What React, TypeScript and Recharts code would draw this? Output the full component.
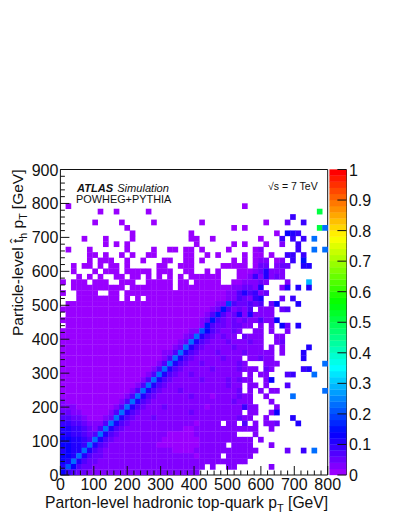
import React from 'react';
import { ScatterChart, Scatter, XAxis, YAxis } from 'recharts';

// pT axes (GeV) and colour scale
const xTicks = [0, 20, 40, 60, 80, 100, 120, 140, 160, 180, 200, 220, 240, 260, 280, 300, 320, 340, 360, 380, 400, 420, 440, 460, 480, 500, 520, 540, 560, 580, 600, 620, 640, 660, 680, 700, 720, 740, 760, 780, 800];
const yTicks = [...xTicks, 820, 840, 860, 880, 900];
const colorTicks = [0, 0.1, 0.2, 0.3, 0.4, 0.5, 0.6, 0.7, 0.8, 0.9, 1];
const colorLevels = [0, 1, 2, 3, 4, 5, 6, 7, 8, 9, 10, 11, 12, 13, 14, 15, 16, 17, 18, 19, 20, 21, 22, 23, 24, 25, 26, 27, 28, 29, 30, 31, 32, 33, 34, 35, 36, 37, 38, 39, 40, 41, 42, 43, 44, 45, 46, 47, 48, 49];

const binSize = 16;

// migration matrix, top row first (784-800 GeV), one char per 16 GeV bin
// char = colour level in base 36 (level / 50 = fraction), '.' = empty bin
const heatRows = [
  '.0........ .......... .......... ....0..... ..........',
  '.......0.. 0.....0... .......... .......... ........p.',
  '.......... .......... .......... .......... ...4......',
  '......0... .0.....0.. ......0... ........0. ..2..4....',
  '.......... ..0....... .......... ..0.0..... ........pb',
  '.......... ...0...... ....0..... .......... 0.654.....',
  '....0...0. ...0...... ....00..0. .......0.. .4.4.4.b..',
  '........0. 0.0....... .....0.... ..0.0...0. .1..4.....',
  '.0...0.... ..0....0.. 00.00.0... .0....01.. ....4..b.b',
  '.....00.0. .0.0..00.. ...00..0.0 ....0.00.0 ..44.4....',
  '.....0.000 ..0..0...0 0..00.0... ..0.0.011. 01.4.7....',
  '..0.00.0.0 0.0.....00 ..000..... 00000.022. 122..55...',
  '..0...0.00 0.00000.00 0..00..0.0 ...0001251 11........',
  '...0.0.0.. 00.00.0.0. 0.0.000000 ...0014151 21........',
  '0.000.000. .000..0000 0.00.00000 ..0011121. ..1...e...',
  '..00000000 00.0000000 0.00000000 00112215.. .15.5.5...',
  '0..0000..0 0.00000000 0000000000 011353412. ..........',
  '...0000000 0.0.0.0000 0000000000 01132145.. .2.4......',
  '.000000000 0000000000 0000000001 19322323.2 6...5.....',
  '0000000000 0000000000 0000000012 731213.111 .23.......',
  '.000000000 0000000000 0000000137 3125151111 ..........',
  '0000000000 0000000000 0000001273 2121211311 6.........',
  '.000000000 0000000000 0000001732 212211.1.1 .62.5.....',
  '0000000000 0000000000 000011a632 1121..11.1 ..1.......',
  '0000000000 0000000000 00012b5321 211.2111.. 11........',
  '0000000000 0000000000 0012b53211 12111211.. 12........',
  '0000000000 0000000000 012b532111 11211111.1 .1....5...',
  '0000000000 0000000001 13b5321112 1111211111 .1...5....',
  '0000000000 0000000001 3b53211111 2111.11211 .....5....',
  '0000000000 0000000013 b532112111 11121...11 1........b',
  '0000000000 000000013b 5321111121 1112111.21 .....45...',
  '0000000000 00000013b5 3211211111 1111.1.11. ..34...b..',
  '0000000000 0000013b53 2111112111 121211..16 ..........',
  '0000000000 000013b532 1111111111 1211.11.1. ..3.......',
  '0000000000 00013b5321 1121111111 1112.1.1.1 1........b',
  '0000000000 0013b53211 1111211101 111211..1. ...b......',
  '1000000000 013b532111 1111111111 112111...1 ..........',
  '1110000000 13b5321112 1111111011 1111411... 1.........',
  '2211000001 3b53211111 1111211111 1111.11..1 6.........',
  '3322100012 b532111211 1111111111 111211..1. ...5......',
  '443321113b 5321111111 1111101111 .11.3.1.11 2...5.....',
  '55443213b5 3211111111 1110011111 1111111..1 ..........',
  '5544323b53 2111111111 0000011111 111...1... ..........',
  '665543b532 1111111110 0000001111 111111.1.. ..........',
  '66554b5321 1111111100 0000001111 1.1111...1 ..........',
  '5655b53211 1111111111 1000011111 1111111... ..2..4.b..',
  '665b532211 1111111111 1111101111 .11111.... ..........',
  '65b5322111 1111111111 1111111111 11111..... ..........',
  '5a63221111 1111111111 1111111.1. .11......1 ..........',
  '6432211111 1111111111 111111.... .......... ..........',
];

const heatCells = heatRows.flatMap((row, r) =>
  row.replace(/ /g, '').split('').flatMap((c, i) =>
    c === '.' ? [] : [{
      x: i * binSize + binSize / 2,
      y: (heatRows.length - 1 - r) * binSize + binSize / 2,
      level: parseInt(c, 36),
    }]
  )
);

const colorCells = colorLevels.map(level => ({ x: 0.5, y: (level + 0.5) / colorLevels.length, level }));

const W = 411;
const H = 532;
const LEFT = 60.4;
const RIGHT = 327.7;
const TOP = 169.5;
const BOTTOM = 475;
const BAR_LEFT = 329.4;
const BAR_RIGHT = 346.4;
const FONT = '"Liberation Sans", Arial, sans-serif';
const INK = '#111';
const TICK_FONT = 16;

const cellW = (RIGHT - LEFT) / 800 * binSize;
const cellH = (BOTTOM - TOP) / 900 * binSize;

// ROOT rainbow palette, purple -> red
function levelColor(level: number) {
  return `hsl(${276 - 276 * level / 49}, 100%, 50%)`;
}

// a little overlap keeps the seams between bins faint
const HeatCell = (props: any) => (
  <rect x={props.cx - cellW / 2 - 0.15} y={props.cy - cellH / 2 - 0.15} width={cellW + 0.3} height={cellH + 0.3} fill={levelColor(props.payload.level)} />
);

const BarCell = (props: any) => (
  <rect x={BAR_LEFT} y={props.cy - (BOTTOM - TOP) / 100 - 0.15} width={BAR_RIGHT - BAR_LEFT} height={(BOTTOM - TOP) / 50 + 0.3} fill={levelColor(props.payload.level)} />
);

const BottomTick = ({ x, y, payload }: any) => {
  const major = payload.value % 100 === 0;
  return (
    <g>
      <line x1={x} x2={x} y1={y} y2={y - (major ? 9 : 4.5)} stroke={INK} strokeWidth={1} />
      {major && <text x={x} y={y + 15} textAnchor="middle" fontFamily={FONT} fontSize={TICK_FONT} fill={INK}>{payload.value}</text>}
    </g>
  );
};

const TopTick = ({ x, y, payload }: any) => (
  <line x1={x} x2={x} y1={y} y2={y + (payload.value % 100 === 0 ? 9 : 4.5)} stroke={INK} strokeWidth={1} />
);

const LeftTick = ({ x, y, payload }: any) => {
  const major = payload.value % 100 === 0;
  return (
    <g>
      <line x1={x} x2={x + (major ? 9 : 4.5)} y1={y} y2={y} stroke={INK} strokeWidth={1} />
      {major && <text x={x - 2} y={y + 6} textAnchor="end" fontFamily={FONT} fontSize={TICK_FONT} fill={INK}>{payload.value}</text>}
    </g>
  );
};

const RightTick = ({ x, y, payload }: any) => (
  <line x1={x} x2={x - (payload.value % 100 === 0 ? 9 : 4.5)} y1={y} y2={y} stroke={INK} strokeWidth={1} />
);

const BarTick = ({ x, y, payload }: any) => (
  <g>
    <line x1={x} x2={x - 9} y1={y} y2={y} stroke={INK} strokeWidth={1} />
    <text x={x + 2.5} y={y + 6} fontFamily={FONT} fontSize={TICK_FONT} fill={INK}>{payload.value}</text>
  </g>
);

export default function App() {
  return (
    <div style={{ position: 'absolute', left: 0, top: 0, width: W, height: H, background: '#fff' }}>
      <div style={{ position: 'absolute', left: 0, top: 0 }}>
        <ScatterChart width={W} height={H} margin={{ top: 0, right: 0, bottom: 0, left: 0 }}>
          <XAxis xAxisId="bottom" type="number" dataKey="x" domain={[0, 800]} ticks={xTicks} interval={0} height={H - BOTTOM} tick={<BottomTick />} tickLine={false} tickSize={0} tickMargin={0} axisLine={{ stroke: INK }} />
          <XAxis xAxisId="top" orientation="top" type="number" domain={[0, 800]} ticks={xTicks} interval={0} height={TOP} tick={<TopTick />} tickLine={false} tickSize={0} tickMargin={0} axisLine={{ stroke: INK }} />
          <YAxis yAxisId="left" type="number" dataKey="y" domain={[0, 900]} ticks={yTicks} interval={0} width={LEFT} tick={<LeftTick />} tickLine={false} tickSize={0} tickMargin={0} axisLine={{ stroke: INK }} />
          <YAxis yAxisId="right" orientation="right" type="number" domain={[0, 900]} ticks={yTicks} interval={0} width={W - RIGHT} tick={<RightTick />} tickLine={false} tickSize={0} tickMargin={0} axisLine={{ stroke: INK }} />
          <Scatter data={heatCells} xAxisId="bottom" yAxisId="left" shape={HeatCell} isAnimationActive={false} />
        </ScatterChart>
      </div>
      <div style={{ position: 'absolute', left: 0, top: 0 }}>
        <ScatterChart width={W} height={H} margin={{ top: TOP, right: 0, bottom: H - BOTTOM, left: BAR_LEFT }}>
          <XAxis xAxisId="bar" type="number" dataKey="x" domain={[0, 1]} hide />
          <YAxis yAxisId="barValue" orientation="right" type="number" dataKey="y" domain={[0, 1]} ticks={colorTicks} interval={0} width={W - BAR_RIGHT} tick={<BarTick />} tickLine={false} tickSize={0} tickMargin={0} axisLine={{ stroke: INK }} />
          <Scatter data={colorCells} xAxisId="bar" yAxisId="barValue" shape={BarCell} isAnimationActive={false} />
        </ScatterChart>
      </div>
      <svg width={W} height={H} style={{ position: 'absolute', left: 0, top: 0, pointerEvents: 'none' }} fontFamily={FONT} fill={INK}>
        <text x={77} y={192} fontSize={11.1} fontStyle="italic">
          <tspan fontWeight="bold">ATLAS</tspan>
          <tspan dx={4}>Simulation</tspan>
        </text>
        <text x={76} y={203} fontSize={10.9}>POWHEG+PYTHIA</text>
        <text x={268} y={190} fontSize={10.5}>√s = 7 TeV</text>
        <text x={45} y={508} fontSize={15.7}>
          Parton-level hadronic top-quark p<tspan dy={4} fontSize={11}>T</tspan><tspan dy={-4}> [GeV]</tspan>
        </text>
        <text transform="translate(23 169.5) rotate(-90)" textAnchor="end" fontSize={15.5}>
          Particle-level t̂<tspan dy={4} fontSize={10.5}>h</tspan><tspan dy={-4}> p</tspan><tspan dy={4} fontSize={10.5}>T</tspan><tspan dy={-4}> [GeV]</tspan>
        </text>
      </svg>
    </div>
  );
}
